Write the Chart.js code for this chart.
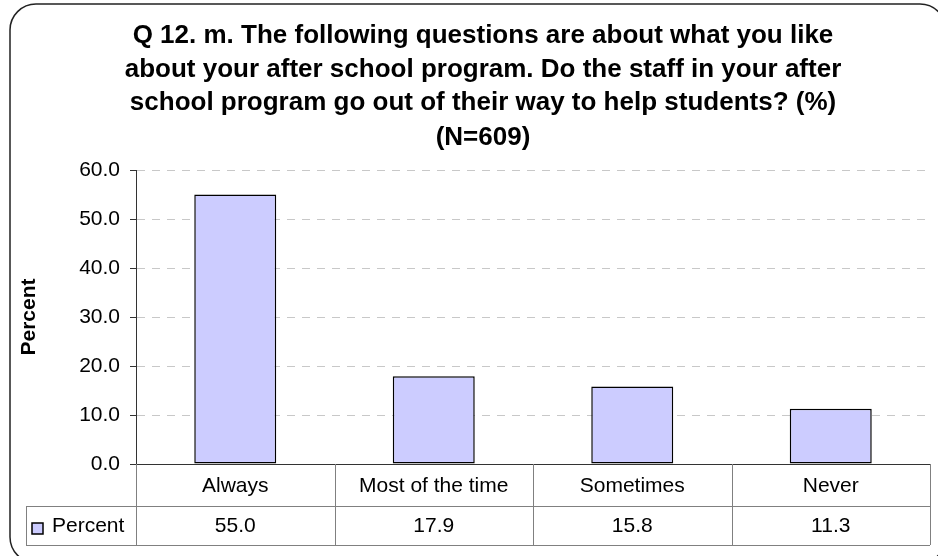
<!DOCTYPE html>
<html>
<head>
<meta charset="utf-8">
<script src="https://cdn.jsdelivr.net/npm/chart.js@4.4.1/dist/chart.umd.min.js"></script>
<style>
    html, body { margin: 0; padding: 0; background: #ffffff; }
    #wrap { width: 938px; height: 556px; }
</style>
</head>
<body>
<div id="wrap"><canvas id="chartJS1" width="938" height="556"></canvas></div>
<script>
var categories = ['Always', 'Most of the time', 'Sometimes', 'Never'];
var percentValues = [55.0, 17.9, 15.8, 11.3];
var tickValues = [0, 10, 20, 30, 40, 50, 60];
var seriesName = 'Percent';
var titleLines = [
    'Q 12. m. The following questions are about what you like',
    'about your after school program. Do the staff in your after',
    'school program go out of their way to help students? (%)',
    '(N=609)'
];

var fontFamily = '"Liberation Sans", Arial, sans-serif';
var barColor = '#ccccff';

// rounded frame, title and the data table under the x axis
var excelLook = {
    id: 'excelLook',
    beforeDraw: function (chart) {
        var ctx = chart.ctx;
        ctx.save();
        ctx.fillStyle = '#ffffff';
        ctx.fillRect(0, 0, chart.width, chart.height);
        // frame runs off the right and bottom edges like in the original
        ctx.strokeStyle = '#222222';
        ctx.lineWidth = 1.5;
        ctx.beginPath();
        ctx.roundRect(10, 4, 936, 559, 26);
        ctx.stroke();

        ctx.fillStyle = '#000000';
        ctx.font = 'bold 26px ' + fontFamily;
        ctx.textAlign = 'center';
        ctx.textBaseline = 'alphabetic';
        var ys = [43, 77, 110, 145];
        for (var i = 0; i < titleLines.length; i++) {
            ctx.fillText(titleLines[i], 483, ys[i]);
        }
        ctx.restore();
    },
    afterDraw: function (chart) {
        var ctx = chart.ctx;
        var x = chart.scales.x;
        var n = categories.length;
        var top = chart.chartArea.bottom;
        var mid = top + 42;
        var bottom = top + 81;
        var legendLeft = 26;
        var edges = [x.left];
        for (var i = 0; i < n - 1; i++) {
            edges.push((x.getPixelForValue(i) + x.getPixelForValue(i + 1)) / 2);
        }
        edges.push(x.right);

        ctx.save();
        ctx.strokeStyle = '#808080';
        ctx.lineWidth = 1;
        ctx.beginPath();
        ctx.moveTo(legendLeft, mid + 0.5);
        ctx.lineTo(x.right, mid + 0.5);
        ctx.moveTo(legendLeft, bottom + 0.5);
        ctx.lineTo(x.right, bottom + 0.5);
        ctx.moveTo(legendLeft + 0.5, mid);
        ctx.lineTo(legendLeft + 0.5, bottom);
        for (var j = 0; j < edges.length; j++) {
            var ex = Math.round(edges[j]) + 0.5;
            ctx.moveTo(ex, top);
            ctx.lineTo(ex, bottom);
        }
        ctx.stroke();

        ctx.fillStyle = '#000000';
        ctx.font = '21px ' + fontFamily;
        ctx.textAlign = 'center';
        ctx.textBaseline = 'middle';
        for (var k = 0; k < n; k++) {
            var cx = x.getPixelForValue(k);
            ctx.fillText(categories[k], cx, (top + mid) / 2 + 1);
            ctx.fillText(percentValues[k].toFixed(1), cx, (mid + bottom) / 2 + 1);
        }

        // legend key
        ctx.fillStyle = barColor;
        ctx.fillRect(32, 523, 11, 11);
        ctx.strokeStyle = '#000000';
        ctx.lineWidth = 1.5;
        ctx.strokeRect(32, 523, 11, 11);
        ctx.fillStyle = '#000000';
        ctx.textAlign = 'left';
        ctx.fillText(seriesName, 52, (mid + bottom) / 2 + 1);
        ctx.restore();
    }
};

var ctx1 = document.getElementById('chartJS1').getContext('2d');
var chart1 = new Chart(ctx1, {
    type: 'bar',
    data: {
        labels: categories,
        datasets: [{
            label: seriesName,
            data: percentValues,
            backgroundColor: barColor,
            borderColor: '#000000',
            borderWidth: 1.5,
            borderSkipped: false,
            barPercentage: 0.413,
            categoryPercentage: 1
        }]
    },
    options: {
        responsive: false,
        animation: false,
        devicePixelRatio: 1,
        layout: {
            padding: { top: 170, right: 8, bottom: 0, left: 0 }
        },
        plugins: {
            legend: { display: false },
            tooltip: { enabled: false }
        },
        scales: {
            y: {
                min: 0,
                max: 60,
                afterFit: function (scale) { scale.width = 136; },
                afterBuildTicks: function (scale) {
                    scale.ticks = tickValues.map(function (v) { return { value: v }; });
                },
                ticks: {
                    color: '#000000',
                    padding: 10,
                    font: { family: fontFamily, size: 21 },
                    callback: function (value) { return Number(value).toFixed(1); }
                },
                grid: {
                    color: function (c) { return c.tick && c.tick.value === 0 ? 'rgba(0,0,0,0)' : '#c8c8c8'; },
                    lineWidth: 1,
                    drawTicks: true,
                    tickLength: 6,
                    tickColor: '#333333',
                    tickBorderDash: []
                },
                border: {
                    display: true,
                    color: '#333333',
                    width: 1,
                    dash: [8, 7]
                },
                title: {
                    display: true,
                    text: 'Percent',
                    color: '#000000',
                    padding: { top: 17, bottom: 0 },
                    font: { family: fontFamily, size: 21, weight: 'bold' }
                }
            },
            x: {
                afterFit: function (scale) { scale.height = 92; },
                ticks: { display: false },
                grid: { display: false },
                border: { display: true, color: '#333333', width: 1 }
            }
        }
    },
    plugins: [excelLook]
});
</script>
</body>
</html>
